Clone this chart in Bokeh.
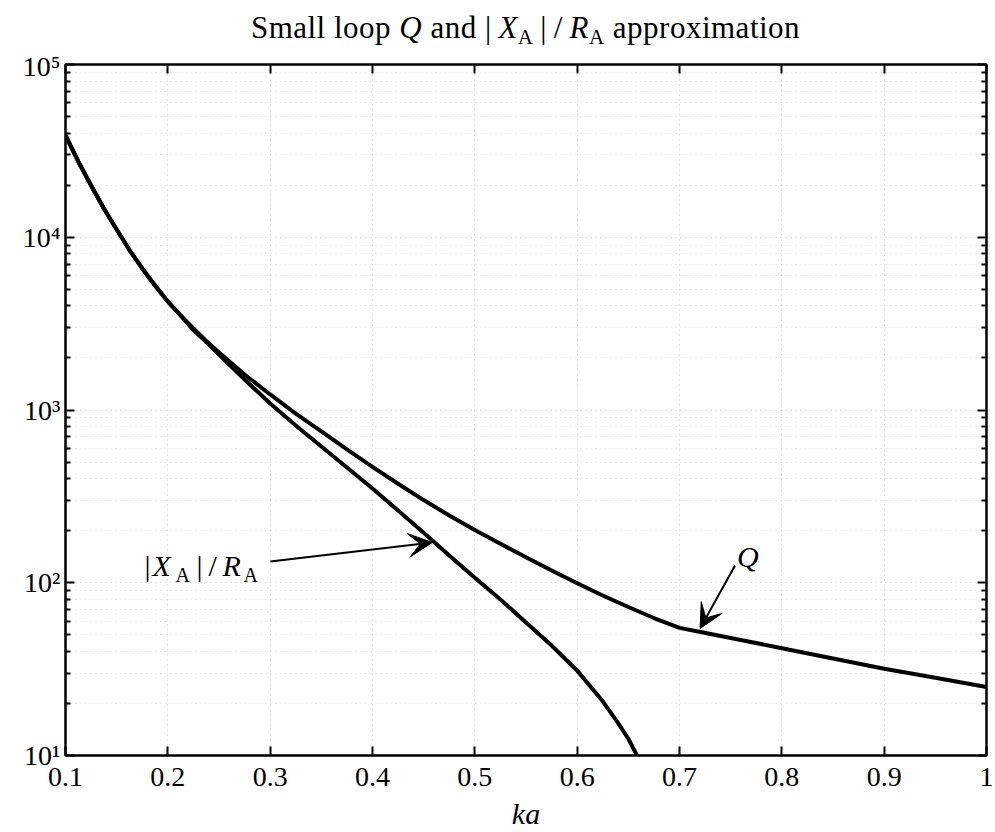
import json
from bokeh.plotting import figure
from bokeh.layouts import column
from bokeh.models import (Range1d, FixedTicker, LinearAxis, LogAxis, Label, Arrow,
                          VeeHead, CustomJSTickFormatter, Div)
from bokeh.embed import file_html
from bokeh.resources import INLINE

# ---------------- data ----------------
ka_q = [0.1, 0.1125, 0.125, 0.1375, 0.15, 0.1625, 0.175, 0.1875, 0.2, 0.2125,
        0.225, 0.2375, 0.25, 0.275, 0.3, 0.325, 0.35, 0.375, 0.4, 0.425,
        0.45, 0.475, 0.5, 0.525, 0.55, 0.575, 0.6, 0.625, 0.65, 0.675,
        0.7, 0.7169, 0.75, 0.8, 0.85, 0.9, 0.95, 1.0]
q_vals = [38820, 27450, 19930, 14670, 11090, 8430, 6595, 5257, 4247, 3524,
          2964, 2508, 2153, 1605, 1230, 954, 751, 591, 468, 374,
          301, 245, 202, 168, 140.4, 117.8, 99.3, 84.4, 72.4, 62.5,
          54.8, 52.4, 47.9, 41.8, 36.4, 31.8, 28.2, 24.9]

ka_x = [0.1, 0.1125, 0.125, 0.1375, 0.15, 0.1625, 0.175, 0.1875, 0.2, 0.2125,
        0.225, 0.2375, 0.25, 0.275, 0.3, 0.325, 0.35, 0.375, 0.4, 0.425,
        0.45, 0.475, 0.5, 0.525, 0.55, 0.575, 0.6, 0.625, 0.6387, 0.65, 0.6585]
xr_vals = [38820, 27450, 19930, 14670, 11090, 8430, 6595, 5257, 4247, 3524,
           2900, 2470, 2096, 1502, 1091, 813, 615, 465, 351, 262,
           195, 144, 107, 80, 58.9, 43.3, 31.0, 20.6, 15.8, 12.5, 10.0]

x_ticks = [0.1, 0.2, 0.3, 0.4, 0.5, 0.6, 0.7, 0.8, 0.9, 1.0]
y_major = [10, 100, 1000, 10000, 100000]
y_minor = [m * 10 ** k for k in range(1, 5) for m in range(2, 10)]
y_exp = ["\u00b9", "\u00b2", "\u00b3", "\u2074", "\u2075"]

SERIF = "Liberation Serif"

# helpers: reference-pixel positions -> data units (annotation placement only)
def xd(px):
    return 0.1 + (px - 65) / 1024.0

def yd(py):
    return 10 ** (1 + (755 - py) / 172.75)

TITLE_H = 50

sub = "<sub style=\"font-size:21px;vertical-align:-6px;\">A</sub>"
title_html = (
    "<div style=\"width:921px;font-family:'Liberation Serif',serif;font-size:31px;line-height:31px;"
    "letter-spacing:0.5px;text-align:center;padding-top:12px;color:#000;white-space:nowrap;\">"
    "Small loop <i>Q</i> and |&thinsp;<i>X</i>" + sub + "&thinsp;|&thinsp;/&thinsp;"
    "<i>R</i>" + sub + " approximation</div>"
)
title_div = Div(text=title_html, width=921, height=TITLE_H, margin=(0, 0, 0, 65),
                styles={"text-align": "center", "width": "921px"})

p = figure(width=995, height=832 - TITLE_H, x_range=Range1d(0.1, 1.0), y_range=Range1d(10, 1e5),
           y_axis_type="log", output_backend="svg", toolbar_location=None,
           min_border_left=65, min_border_right=9, min_border_top=64 - TITLE_H, min_border_bottom=77)
p.title.visible = False
p.background_fill_color = "white"
p.border_fill_color = "white"
p.outline_line_color = "black"
p.outline_line_width = 2

p.add_layout(LinearAxis(), "above")
p.add_layout(LogAxis(), "right")

empty = CustomJSTickFormatter(code="return ''")
for ax in p.xaxis:
    ax.ticker = FixedTicker(ticks=x_ticks)
for ax in p.yaxis:
    ax.ticker = FixedTicker(ticks=y_major, minor_ticks=y_minor)

for ax in list(p.xaxis) + list(p.yaxis):
    ax.axis_line_color = "black"
    ax.axis_line_width = 2
    ax.major_tick_line_color = "black"
    ax.major_tick_line_width = 2
    ax.minor_tick_line_color = "black"
    ax.minor_tick_line_width = 2
    ax.major_tick_in = 9
    ax.major_tick_out = 0
    ax.minor_tick_in = 5
    ax.minor_tick_out = 0

bottom = p.below[0]
bottom.formatter = CustomJSTickFormatter(code="return tick.toFixed(1).replace(/\\.0$/, '')")
bottom.major_label_text_font = SERIF
bottom.major_label_text_font_size = "28px"
bottom.major_label_text_color = "black"
bottom.major_label_standoff = 12
bottom.axis_label = "ka"
bottom.axis_label_text_font = SERIF
bottom.axis_label_text_font_size = "30px"
bottom.axis_label_text_font_style = "italic"
bottom.axis_label_text_color = "black"
bottom.axis_label_standoff = 8

left = p.left[0]
ylab_map = {str(v): "10" + e for v, e in zip(y_major, y_exp)}
left.formatter = CustomJSTickFormatter(
    code="const m = " + json.dumps(ylab_map) + "; return m[String(tick)] || '';")
left.major_label_text_font = SERIF
left.major_label_text_font_size = "28px"
left.major_label_text_color = "black"
left.major_label_standoff = 5

for ax in [p.right[0], p.above[0]]:
    ax.formatter = empty
    ax.major_label_standoff = 0
    ax.major_label_text_font_size = "1px"

# grid: faint dotted
p.xgrid.ticker = FixedTicker(ticks=x_ticks)
p.ygrid.ticker = FixedTicker(ticks=y_major, minor_ticks=y_minor)
for g in [p.xgrid[0], p.ygrid[0]]:
    g.grid_line_color = "#9a9a9a"
    g.grid_line_dash = "1 4"
    g.grid_line_alpha = 0.55
p.ygrid.minor_grid_line_color = "#9a9a9a"
p.ygrid.minor_grid_line_dash = "1 4"
p.ygrid.minor_grid_line_alpha = 0.45

# curves
p.line(ka_q, q_vals, line_color="black", line_width=4, line_join="round")
p.line(ka_x, xr_vals, line_color="black", line_width=4, line_join="round")

def lab(text, px, py, size=30, style="normal", align="left"):
    p.add_layout(Label(x=xd(px), y=yd(py), text=text, text_font=SERIF,
                       text_font_size=f"{size}px", text_font_style=style,
                       text_color="black", text_align=align,
                       text_baseline="alphabetic"))

# annotation |X_A|/R_A
lab("|", 144, 565, size=30)
lab("X", 152, 565, size=30, style="italic")
lab("A", 175, 574, size=20)
lab("|", 196, 565, size=30)
lab("/", 208, 565, size=30)
lab("R", 222, 565, size=30, style="italic")
lab("A", 243, 574, size=20)

# annotation Q
lab("Q", 737, 556, size=30, style="italic")

# arrows
p.add_layout(Arrow(end=VeeHead(size=24, fill_color="black", line_color="black"),
                   x_start=xd(270), y_start=yd(561), x_end=xd(432), y_end=yd(542),
                   line_color="black", line_width=2))
p.add_layout(Arrow(end=VeeHead(size=24, fill_color="black", line_color="black"),
                   x_start=xd(735), y_start=yd(565), x_end=xd(700), y_end=yd(628),
                   line_color="black", line_width=2))

layout = column(title_div, p, spacing=0)
open("out.html", "w").write(file_html(layout, INLINE))
